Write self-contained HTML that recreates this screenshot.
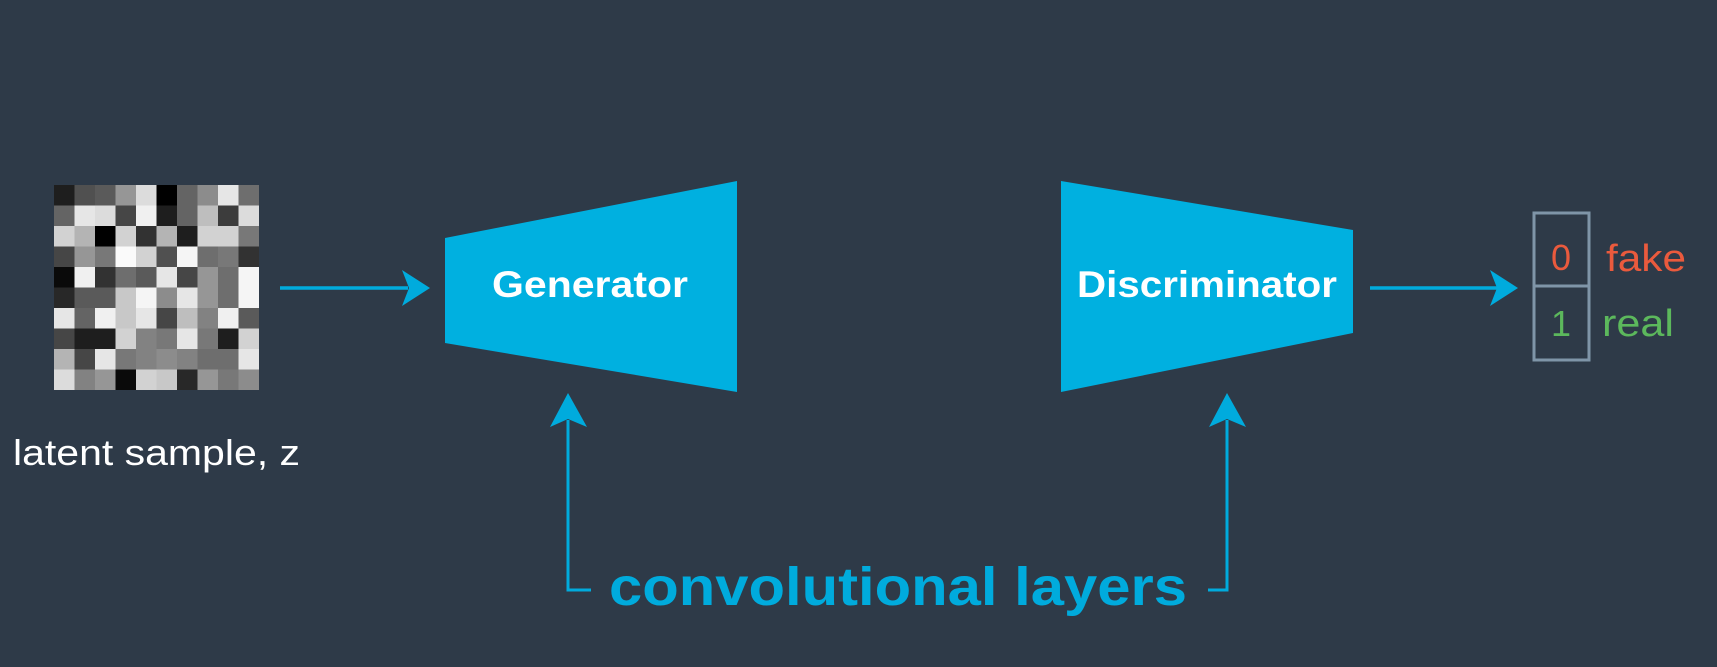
<!DOCTYPE html>
<html><head><meta charset="utf-8"><style>
html,body{margin:0;padding:0;background:#2e3a48;}
svg{display:block;}
</style></head><body>
<svg width="1717" height="667" viewBox="0 0 1717 667" xmlns="http://www.w3.org/2000/svg">
<rect width="1717" height="667" fill="#2e3a48"/>
<rect x="54" y="185" width="205" height="205" fill="#888"/>
<g id="cells" shape-rendering="crispEdges"></g>
<text x="13" y="465" font-family="Liberation Sans, sans-serif" font-size="36" fill="#ffffff" textLength="287" lengthAdjust="spacingAndGlyphs">latent sample, z</text>

<line x1="280" y1="288" x2="408" y2="288" stroke="#00abdd" stroke-width="3.5"/>
<polygon points="430,288 402,270 409,288 402,306" fill="#00abdd"/>

<polygon points="445,238 737,181 737,392 445,343" fill="#00b0e0"/>
<text x="590" y="297" text-anchor="middle" font-family="Liberation Sans, sans-serif" font-weight="bold" font-size="37" fill="#ffffff" textLength="196" lengthAdjust="spacingAndGlyphs">Generator</text>

<polygon points="1061,181 1353,230 1353,333 1061,392" fill="#00b0e0"/>
<text x="1207" y="297" text-anchor="middle" font-family="Liberation Sans, sans-serif" font-weight="bold" font-size="37" fill="#ffffff" textLength="260" lengthAdjust="spacingAndGlyphs">Discriminator</text>

<line x1="1370" y1="288" x2="1498" y2="288" stroke="#00abdd" stroke-width="3.5"/>
<polygon points="1518,288 1490,270 1497,288 1490,306" fill="#00abdd"/>

<rect x="1534" y="213" width="55" height="147" fill="none" stroke="#7f95a8" stroke-width="3"/>
<line x1="1534" y1="286" x2="1589" y2="286" stroke="#7f95a8" stroke-width="3"/>
<text x="1561" y="270" text-anchor="middle" font-family="Liberation Sans, sans-serif" font-size="36" fill="#ea5a3d">0</text>
<text x="1561" y="336" text-anchor="middle" font-family="Liberation Sans, sans-serif" font-size="36" fill="#5cb85c">1</text>
<text x="1606" y="271" font-family="Liberation Sans, sans-serif" font-size="38" fill="#ea5a3d" textLength="80" lengthAdjust="spacingAndGlyphs">fake</text>
<text x="1602" y="336" font-family="Liberation Sans, sans-serif" font-size="38" fill="#5cb85c" textLength="72" lengthAdjust="spacingAndGlyphs">real</text>

<polyline points="591,590 568,590 568,420" fill="none" stroke="#00abdd" stroke-width="3"/>
<polygon points="568,393 550,427 568,419 587,427" fill="#00abdd"/>
<polyline points="1208,590 1227,590 1227,420" fill="none" stroke="#00abdd" stroke-width="3"/>
<polygon points="1227,393 1209,427 1227,419 1246,427" fill="#00abdd"/>
<text x="609" y="605" font-family="Liberation Sans, sans-serif" font-weight="bold" font-size="54" fill="#00abdd" textLength="578" lengthAdjust="spacingAndGlyphs">convolutional layers</text>
</svg>
<script>
(function(){
var v=[[30,80,90,150,220,0,100,140,230,110],
[100,230,220,70,240,30,100,190,60,220],
[210,180,0,210,50,180,30,210,210,120],
[70,150,120,250,210,80,245,110,120,50],
[10,240,50,110,90,230,70,150,110,245],
[40,90,90,200,245,140,230,150,110,245],
[230,100,240,200,230,70,190,130,240,90],
[70,30,30,210,130,120,230,120,30,210],
[180,70,230,120,130,140,130,110,110,230],
[220,130,150,10,210,200,40,150,120,140]];
var g=document.getElementById('cells'),ns='http://www.w3.org/2000/svg';
for(var r=0;r<10;r++)for(var c=0;c<10;c++){
var e=document.createElementNS(ns,'rect');
e.setAttribute('x',(54+c*20.5).toFixed(1));e.setAttribute('y',(185+r*20.5).toFixed(1));
e.setAttribute('width','20.6');e.setAttribute('height','20.6');
var k=v[r][c];e.setAttribute('fill','rgb('+k+','+k+','+k+')');g.appendChild(e);}
})();
</script>
</body></html>
